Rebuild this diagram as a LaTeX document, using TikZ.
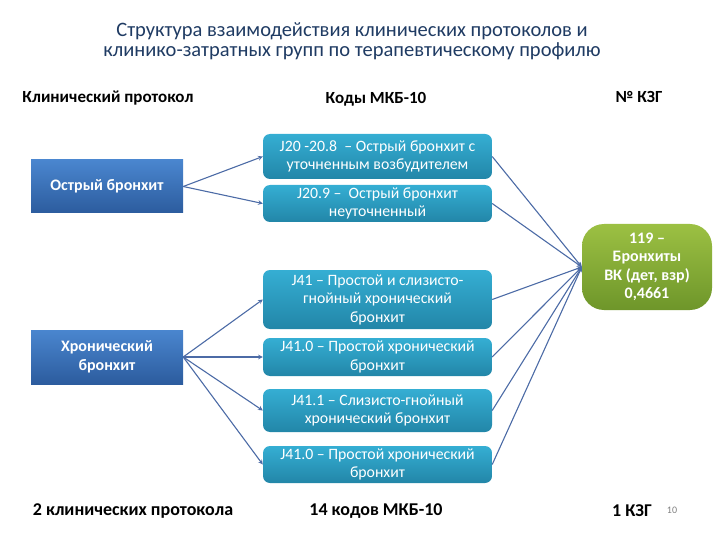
\documentclass[tikz,border=0pt]{standalone}
\usepackage{fontspec}
\setmainfont{Carlito}
\usepackage{xcolor}
\usepackage{tikz}

\definecolor{titleblue}{HTML}{1F3B63}
\definecolor{protlight}{HTML}{4A86CF}
\definecolor{protdark}{HTML}{2C5C9E}
\definecolor{codelight}{HTML}{35AED3}
\definecolor{codedark}{HTML}{2286A8}
\definecolor{kzglight}{HTML}{9CC043}
\definecolor{kzgdark}{HTML}{6E962A}
\definecolor{linkblue}{HTML}{4C6BA6}

\tikzset{
  protbox/.style={draw=none, top color=protlight, bottom color=protdark,
    minimum width=152pt, text=white, align=center,
    font=\fontsize{16}{19}\selectfont\bfseries},
  codebox/.style={draw=none, rounded corners=7pt, top color=codelight,
    bottom color=codedark, minimum width=229pt, inner sep=1pt, text=white,
    align=center, font=\fontsize{15.8}{18.5}\selectfont},
  kzgbox/.style={draw=none, rounded corners=22pt, top color=kzglight,
    bottom color=kzgdark, minimum width=130pt, minimum height=86pt,
    inner sep=1pt, text=white, align=center,
    font=\fontsize{16}{18.5}\selectfont\bfseries},
  head/.style={font=\fontsize{17}{20}\selectfont\bfseries},
  foot/.style={font=\fontsize{18}{21}\selectfont\bfseries},
  link/.style={draw=linkblue, line width=1.1pt, -stealth}
}

\begin{document}
\begin{tikzpicture}[x=1pt, y=-1pt]
  \useasboundingbox (0,0) rectangle (720,540);

  % title and column heads
  \node[text=titleblue, align=center, font=\fontsize{20.5}{20}\selectfont] (title) at (352,41)
    {Структура взаимодействия клинических протоколов и\\клинико-затратных групп по терапевтическому профилю};
  \node[head] (hprot) at (108,98) {Клинический протокол};
  \node[head] (hcode) at (376,99) {Коды МКБ-10};
  \node[head] (hkzg) at (639,97) {№ КЗГ};

  % clinical protocols
  \node[protbox, minimum height=53pt] (prot1) at (107,186.5) {Острый бронхит};
  \node[protbox, minimum height=54pt] (prot2) at (107,357) {Хронический\\бронхит};

  % ICD-10 codes
  \node[codebox, minimum height=45pt] (code1) at (377.5,156.5) {J20 -20.8 \ -- Острый бронхит с\\уточненным возбудителем};
  \node[codebox, minimum height=37pt] (code2) at (377.5,203.5) {J20.9 -- \ Острый бронхит\\неуточненный};
  \node[codebox, minimum height=59pt] (code3) at (377.5,299.5) {J41 -- Простой и слизисто-\\гнойный хронический\\бронхит};
  \node[codebox, minimum height=38pt] (code4) at (377.5,357) {J41.0 -- Простой хронический\\бронхит};
  \node[codebox, minimum height=43pt] (code5) at (377.5,410.5) {J41.1 -- Слизисто-гнойный\\хронический бронхит};
  \node[codebox, minimum height=37pt] (code6) at (377.5,464.5) {J41.0 -- Простой хронический\\бронхит};

  % KZG
  \node[kzgbox] (kzg) at (647,267) {119 --\\Бронхиты\\ВК (дет, взр)\\0,4661};

  % links
  \draw[link] (prot1.east) -- (code1.west);
  \draw[link] (prot1.east) -- (code2.west);
  \foreach \c in {3,4,5,6}
    \draw[link] (prot2.east) -- (code\c.west);
  \foreach \c in {1,...,6}
    \draw[link] (code\c.east) -- (kzg.west);

  % totals
  \node[foot] (fprot) at (133,511) {2 клинических протокола};
  \node[foot] (fcode) at (376,511) {14 кодов МКБ-10};
  \node[foot] (fkzg) at (632,511) {1 КЗГ};
  \node[text=gray, font=\fontsize{10}{12}\selectfont] (page) at (672,510) {10};
\end{tikzpicture}
\end{document}
